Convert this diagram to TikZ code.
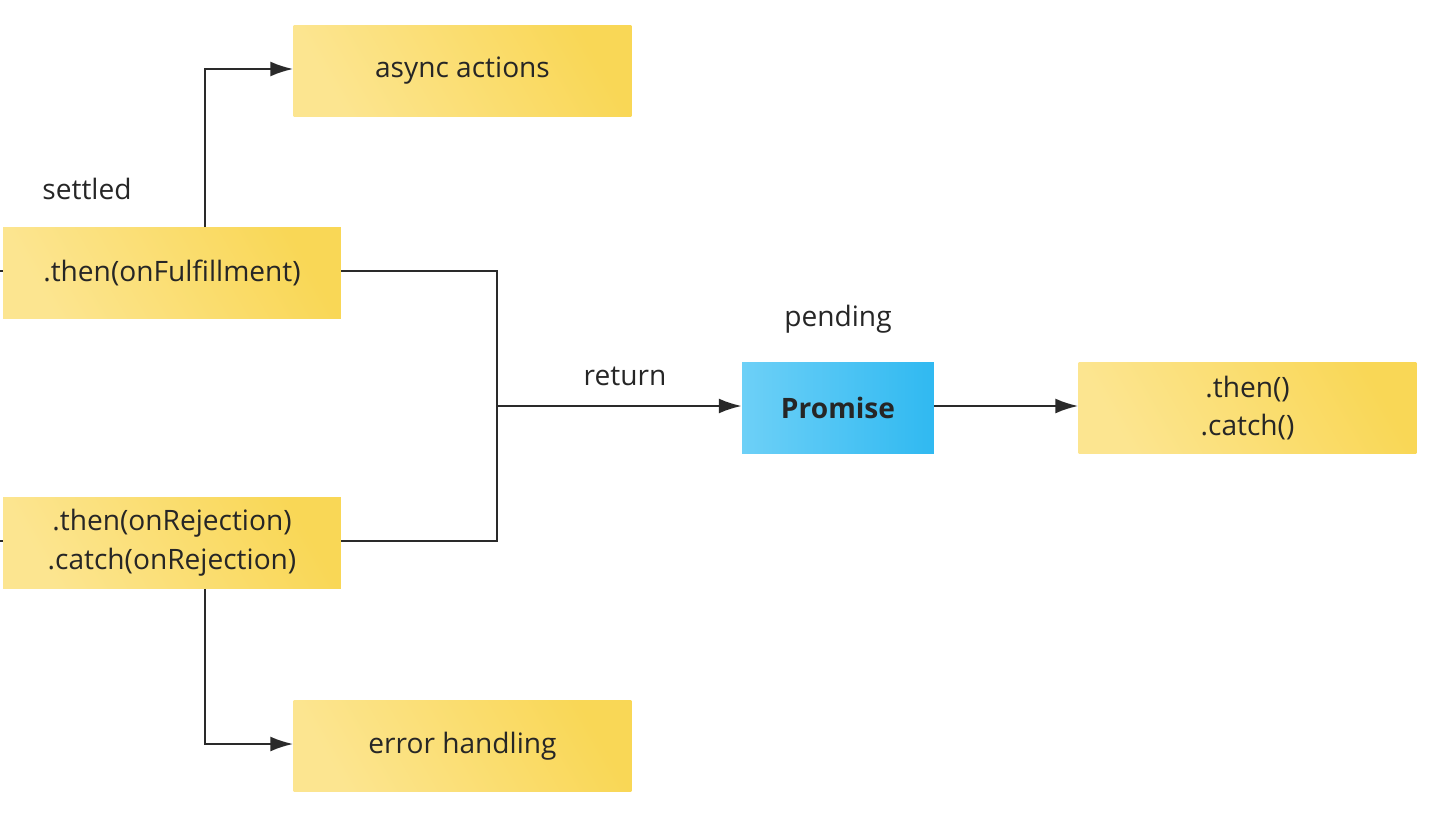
\documentclass[tikz,border=0pt]{standalone}
\usepackage{fontspec}
\setmainfont{Open Sans}
\usetikzlibrary{arrows.meta,positioning}

\definecolor{boxlight}{HTML}{FCE590}
\definecolor{boxdark}{HTML}{F9D756}
\definecolor{promlight}{HTML}{6DD0F7}
\definecolor{promdark}{HTML}{30B9F1}
\definecolor{wire}{HTML}{2A2A2A}

\begin{document}
\begin{tikzpicture}[x=0.02cm, y=-0.02cm]
			\tikzstyle{Step}	= [rectangle, inner sep=0pt, minimum width=6.76cm, minimum height=1.82cm, align=center, shading=axis, left color=boxlight, right color=boxdark, shading angle=120, text=black!85, font=\fontsize{16}{22}\selectfont]
			\tikzstyle{Core}	= [Step, minimum width=3.84cm, left color=promlight, right color=promdark, font=\fontsize{16}{22}\selectfont\bfseries]
			\tikzstyle{Caption}	= [text=black!85, font=\fontsize{16}{19}\selectfont]
			\tikzstyle{Wire}	= [draw=wire, line width=1.2pt]
			\tikzstyle{Flow}	= [Wire, -{Latex[length=13pt, width=8.5pt]}]

			\useasboundingbox (0, 0) rectangle (1440, 814);

			\node (async) at (462.5, 71) [Step] {async actions};
			\node (fulfil) at (172, 273) [Step] {.then(onFulfillment)};
			\node (reject) at (172, 543) [Step] {.then(onRejection)\\.catch(onRejection)};
			\node (errors) at (462.5, 746) [Step] {error handling};
			\node (promise) at (838, 408) [Core] {Promise};
			\node (chain) at (1247.5, 408) [Step] {.then()\\.catch()};

			\node (settled) at (87, 189) [Caption] {settled};
			\node (pending) at (838, 319) [Caption] {pending};
			\node (return) at (625, 376) [Caption] {return};

			\coordinate (inF) at (0, 271);
			\coordinate (inR) at (0, 541);
			\coordinate (join) at (497, 406);

			\draw [Wire] (inF) -- (inF -| fulfil.west);
			\draw [Wire] (inR) -- (inR -| reject.west);

			\draw [Flow] (fulfil.north -| 205, 0) |- (async.west |- 0, 69);
			\draw [Flow] (reject.south -| 205, 0) |- (errors.west |- 0, 744);
			\draw [Wire] (fulfil.east |- inF) -| (join);
			\draw [Wire] (reject.east |- inR) -| (join);
			\draw [Flow] (join) -- (join -| promise.west);
			\draw [Flow] (join -| promise.east) -- (join -| chain.west);
		\end{tikzpicture}
\end{document}
